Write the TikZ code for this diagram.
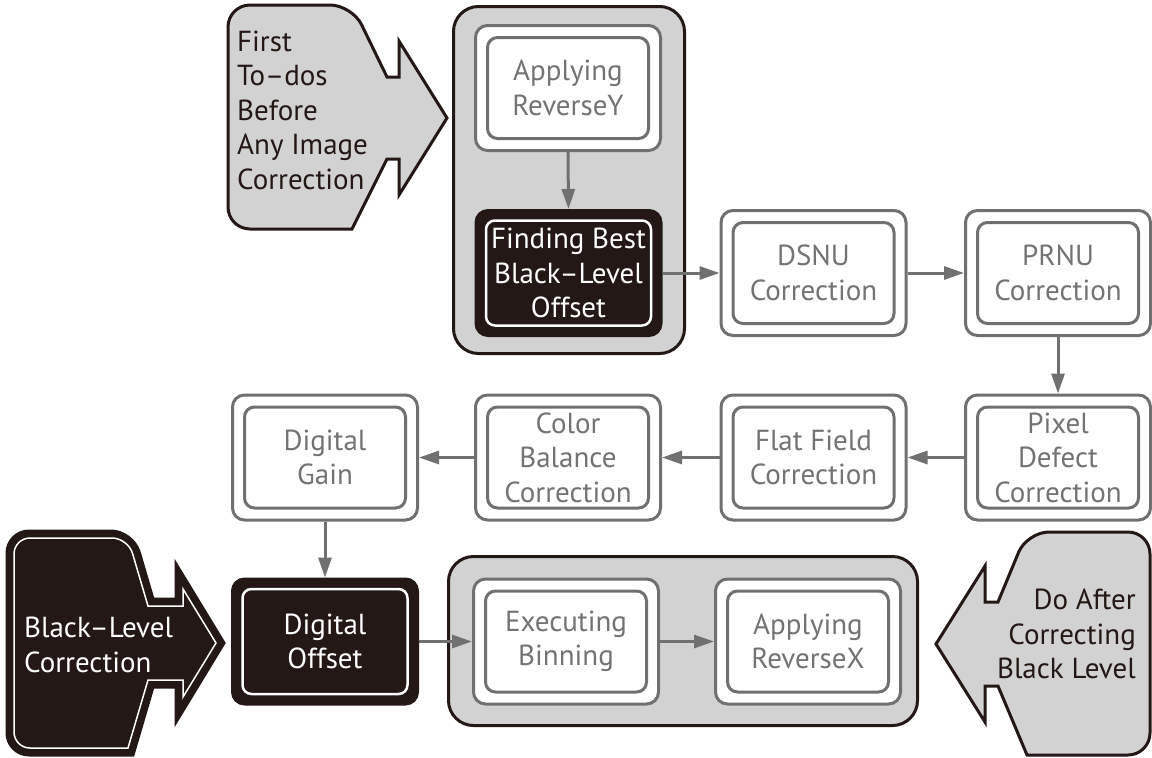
\documentclass[tikz,border=0pt]{standalone}
\usepackage{fontspec}
\setmainfont{PT Sans}
\usetikzlibrary{arrows.meta}
\definecolor{dark}{HTML}{231815}
\definecolor{lgray}{HTML}{717071}
\definecolor{tgray}{HTML}{737373}
\definecolor{fillgray}{HTML}{D3D2D2}
\begin{document}
\begin{tikzpicture}[x=1pt,y=-1pt,
 every node/.style={font=\fontsize{29}{34.5}\selectfont, align=center, inner sep=0pt},
 proc/.style={draw=lgray, line width=3pt, fill=white, rounded corners=12pt,
   minimum width=185pt, minimum height=125pt, text=tgray,
   path picture={\draw[lgray, line width=3pt, rounded corners=10pt]
     ([shift={(12pt,12pt)}]path picture bounding box.south west) rectangle
     ([shift={(-12pt,-12pt)}]path picture bounding box.north east);}},
 blk/.style={draw=dark, line width=3pt, fill=dark, rounded corners=12pt,
   minimum width=185pt, minimum height=125pt, text=white,
   path picture={\draw[white, line width=2.5pt, rounded corners=9pt]
     ([shift={(10pt,10pt)}]path picture bounding box.south west) rectangle
     ([shift={(-10pt,-10pt)}]path picture bounding box.north east);}},
 container/.style={draw=dark, line width=3pt, fill=fillgray, rounded corners=25pt},
 conn/.style={draw=lgray, line width=3pt, -{Triangle[length=20pt,width=13pt]}},
 shapeg/.style={draw=dark, line width=3pt, fill=fillgray, line join=miter},
 shapeb/.style={draw=dark, line width=3pt, fill=dark, line join=miter},
 shapew/.style={draw=white, line width=1.5pt, line join=miter}
]
\fill[white] (0,0) rectangle (1152,758);
\useasboundingbox (0,0) rectangle (1152,758);

% groups
\node[container, minimum width=231pt, minimum height=347pt] (grpA) at (569,180) {};
\node[container, minimum width=469pt, minimum height=169pt] (grpB) at (683,641) {};

% process boxes
\node[proc] (revY) at (568,88) {Applying\\ReverseY};
\node[blk] (best) at (568.5,273) {Finding Best\\Black–Level\\Offset};
\node[proc] (dsnu) at (813.5,273) {DSNU\\Correction};
\node[proc] (prnu) at (1058,273) {PRNU\\Correction};
\node[proc] (pixel) at (1058,457.5) {Pixel\\Defect\\Correction};
\node[proc] (flat) at (813.5,457.5) {Flat Field\\Correction};
\node[proc] (color) at (568,457.5) {Color\\Balance\\Correction};
\node[proc] (gain) at (325,457.5) {Digital\\Gain};
\node[blk] (offset) at (325,641.5) {Digital\\Offset};
\node[proc] (binning) at (566,641.5) {Executing\\Binning};
\node[proc] (revX) at (808,641.5) {Applying\\ReverseX};

% connectors
\draw[conn] (revY.south) -- (best.north);
\draw[conn] (best.east) -- (dsnu.west);
\draw[conn] (dsnu.east) -- (prnu.west);
\draw[conn] (prnu.south) -- (pixel.north);
\draw[conn] (pixel.west) -- (flat.east);
\draw[conn] (flat.west) -- (color.east);
\draw[conn] (color.west) -- (gain.east);
\draw[conn] (gain.south) -- (offset.north);
\draw[conn] (offset.east) -- (binning.west);
\draw[conn] (binning.east) -- (revX.west);

% top-left gray arrow
\draw[shapeg] (228,117) [rounded corners=22pt] -- (228,5) -- (352,5) [sharp corners]
  -- (387,77) -- (399,77) -- (399,41) -- (447,118) -- (399,195) -- (399,159)
  -- (387,159) -- (352,229) [rounded corners=22pt] -- (228,229) -- cycle;
\node[anchor=west, align=left, text=dark] (todo) at (237,110)
  {First\\To–dos\\Before\\Any Image\\Correction};

% bottom-left black arrow
\draw[shapeb] (7,643) [rounded corners=22pt] -- (7,531) -- (133,531) [sharp corners]
  -- (153,599) -- (176,599) -- (176,564) -- (224,643) -- (176,722) -- (176,687)
  -- (153,687) -- (133,755) [rounded corners=22pt] -- (7,755) -- cycle;
\draw[shapew] (14,643) [rounded corners=16pt] -- (14,538) -- (128,538) [sharp corners]
  -- (148,606) -- (183,606) -- (183,589) -- (216,643) -- (183,697) -- (183,680)
  -- (148,680) -- (128,748) [rounded corners=16pt] -- (14,748) -- cycle;
\node[anchor=west, align=left, text=white] (blc) at (24,645)
  {Black–Level\\Correction};

% bottom-right gray arrow
\draw[shapeg] (1150,644) [rounded corners=22pt] -- (1150,532) -- (1027,532) [sharp corners]
  -- (998,602) -- (985,602) -- (985,566) -- (936,644) -- (985,722) -- (985,686)
  -- (998,686) -- (1027,755) [rounded corners=22pt] -- (1150,755) -- cycle;
\node[anchor=east, align=right, text=dark] (doafter) at (1136,634)
  {Do After\\Correcting\\Black Level};
\end{tikzpicture}
\end{document}
